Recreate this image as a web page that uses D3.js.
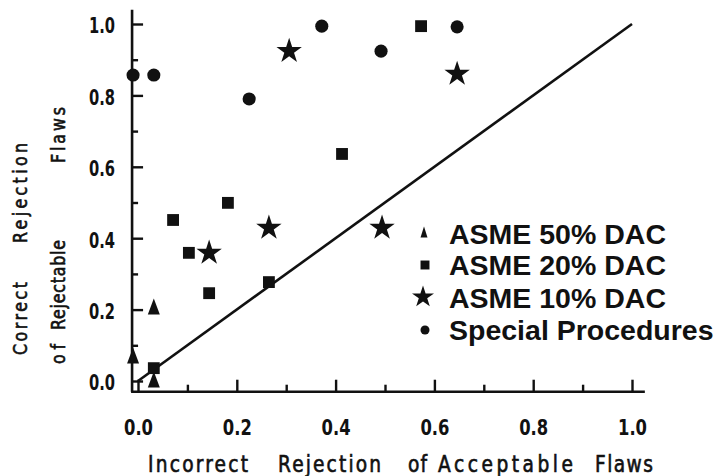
<!DOCTYPE html>
<html>
<head>
<meta charset="utf-8">
<script src="https://cdn.jsdelivr.net/npm/d3@7/dist/d3.min.js"></script>
<style>
  html, body { margin: 0; padding: 0; background: #fff; }
  svg { display: block; }
</style>
</head>
<body>
<svg id="chart" width="719" height="476"></svg>
<script>
// ---- data ----
const categories = ["ASME 50% DAC", "ASME 20% DAC", "ASME 10% DAC", "Special Procedures"];
const asme50X = [0.032, -0.01, 0.032];
const asme50Y = [0.204, 0.067, 0.0];
const asme20X = [0.573, 0.413, 0.182, 0.071, 0.103, 0.144, 0.265, 0.032];
const asme20Y = [0.994, 0.636, 0.499, 0.451, 0.359, 0.246, 0.277, 0.036];
const asme10X = [0.306, 0.646, 0.265, 0.144, 0.494];
const asme10Y = [0.924, 0.860, 0.429, 0.359, 0.429];
const specialX = [-0.01, 0.032, 0.225, 0.372, 0.492, 0.646];
const specialY = [0.857, 0.857, 0.790, 0.994, 0.924, 0.992];
const majorTicks = [0, 0.2, 0.4, 0.6, 0.8, 1.0];
const minorTicks = [0.1, 0.3, 0.5, 0.7, 0.9];
const tickLabels = ["0.0", "0.2", "0.4", "0.6", "0.8", "1.0"];
const diagonal = [[0, 0], [1, 1]];
const xTitleWords = ["Incorrect", "Rejection", "of", "Acceptable", "Flaws"];
const yTitle1Words = ["Correct", "Rejection"];
const yTitle2Words = ["of", "Rejectable", "Flaws"];

// ---- layout ----
const svg = d3.select("#chart");
const x = d3.scaleLinear().domain([0, 1]).range([138, 632]);
const y = d3.scaleLinear().domain([0, 1]).range([381, 24]);
const tickFont = "'DejaVu Sans Condensed', 'DejaVu Sans', sans-serif";

svg.append("rect").attr("width", 719).attr("height", 476).attr("fill", "#fff");

// axis lines
const axisX0 = x(-0.012), axisX1 = x(1.026);
const axisY0 = y(-0.03), axisY1 = y(1.04);
svg.append("line").attr("x1", axisX0).attr("x2", axisX0).attr("y1", axisY1).attr("y2", axisY0)
  .attr("stroke", "#111").attr("stroke-width", 2.6);
svg.append("line").attr("x1", axisX0 - 1).attr("x2", axisX1).attr("y1", axisY0).attr("y2", axisY0)
  .attr("stroke", "#111").attr("stroke-width", 2.6);

// Y axis (ticks inward)
const yAxis = d3.axisLeft(y).tickValues(majorTicks).tickSize(-11).tickPadding(17)
  .tickFormat((d, i) => tickLabels[i]);
const gy = svg.append("g").attr("transform", `translate(${axisX0},0)`).call(yAxis);
gy.select(".domain").remove();
gy.selectAll(".tick line").attr("stroke", "#111").attr("stroke-width", 2.4);
gy.selectAll(".tick text").attr("font-family", tickFont).attr("font-size", 21)
  .attr("font-weight", "bold").attr("font-stretch", "condensed").attr("fill", "#111").attr("dy", "0.42em")
  .attr("textLength", 26).attr("lengthAdjust", "spacingAndGlyphs");
const yMinor = d3.axisLeft(y).tickValues(minorTicks).tickSize(-6).tickFormat("");
const gym = svg.append("g").attr("transform", `translate(${axisX0},0)`).call(yMinor);
gym.select(".domain").remove();
gym.selectAll(".tick line").attr("stroke", "#111").attr("stroke-width", 2.4);

// X axis (ticks inward)
const xAxis = d3.axisBottom(x).tickValues(majorTicks).tickSize(-12).tickPadding(28)
  .tickFormat((d, i) => tickLabels[i]);
const gx = svg.append("g").attr("transform", `translate(0,${axisY0})`).call(xAxis);
gx.select(".domain").remove();
gx.selectAll(".tick line").attr("stroke", "#111").attr("stroke-width", 2.4);
gx.selectAll(".tick text").attr("font-family", tickFont).attr("font-size", 22)
  .attr("font-weight", "bold").attr("font-stretch", "condensed").attr("fill", "#111")
  .attr("textLength", 29).attr("lengthAdjust", "spacingAndGlyphs");
const xMinor = d3.axisBottom(x).tickValues(minorTicks).tickSize(-7).tickFormat("");
const gxm = svg.append("g").attr("transform", `translate(0,${axisY0})`).call(xMinor);
gxm.select(".domain").remove();
gxm.selectAll(".tick line").attr("stroke", "#111").attr("stroke-width", 2.4);

// diagonal line
svg.append("path").datum(diagonal)
  .attr("d", d3.line().x(d => x(d[0])).y(d => y(d[1])))
  .attr("fill", "none").attr("stroke", "#111").attr("stroke-width", 2.6);

// marker shapes
function triPath(w, h) {
  return `M0,${-h * 0.6}L${w / 2},${h * 0.4}L${-w / 2},${h * 0.4}Z`;
}
const sqPath = d3.symbol(d3.symbolSquare, 140)();
const starPath = d3.symbol(d3.symbolStar, 200)();
const circPath = d3.symbol(d3.symbolCircle, 135)();

function plot(xs, ys, pathStr) {
  svg.append("g").selectAll("path").data(xs.map((v, i) => [v, ys[i]])).join("path")
    .attr("d", pathStr)
    .attr("transform", d => `translate(${x(d[0])},${y(d[1])})`)
    .attr("fill", "#111");
}
plot(asme50X, asme50Y, triPath(12, 16));
plot(asme20X, asme20Y, sqPath);
plot(asme10X, asme10Y, starPath);
plot(specialX, specialY, circPath);

// legend
const legendMarkers = [triPath(7, 11), d3.symbol(d3.symbolSquare, 80)(), d3.symbol(d3.symbolStar, 150)(), d3.symbol(d3.symbolCircle, 64)()];
const legendBaselines = [244, 275, 308, 340];
const legendMarkerX = [424, 425, 423, 425];
const legendMarkerY = [233, 265, 297, 330];
const lg = svg.append("g");
categories.forEach((c, i) => {
  lg.append("path").attr("d", legendMarkers[i])
    .attr("transform", `translate(${legendMarkerX[i]},${legendMarkerY[i]})`).attr("fill", "#111");
  lg.append("text").attr("x", 449).attr("y", legendBaselines[i])
    .attr("font-family", "'Liberation Sans', Arial, sans-serif").attr("font-weight", "bold")
    .attr("font-size", 28.5).attr("fill", "#111").text(c);
});

// axis titles (narrow glyphs, widened letter spacing)
const titleFont = "'DejaVu Sans Condensed', 'DejaVu Sans', sans-serif";
const sx = 0.9;
function titleWord(tr, len, size, w) {
  svg.append("text").attr("transform", tr)
    .attr("font-family", titleFont).attr("font-size", size).attr("fill", "#111")
    .attr("stroke", "#111").attr("stroke-width", 0.6)
    .attr("textLength", len / sx).attr("lengthAdjust", "spacing").text(w);
}
const xWordStart = [148, 278, 408, 438, 595];
const xWordLen = [100, 103, 19, 135, 58];
xTitleWords.forEach((w, i) => {
  titleWord(`translate(${xWordStart[i]},472) scale(${sx},1)`, xWordLen[i], 23, w);
});
// y titles rotated, each word: start (bottom) and length
const y1Start = [355, 243], y1Len = [73, 100];
yTitle1Words.forEach((w, i) => {
  titleWord(`translate(27,${y1Start[i]}) rotate(-90) scale(${sx},1)`, y1Len[i], 19.5, w);
});
const y2Start = [364, 330, 163], y2Len = [20, 90, 56];
yTitle2Words.forEach((w, i) => {
  titleWord(`translate(65,${y2Start[i]}) rotate(-90) scale(${sx},1)`, y2Len[i], 19.5, w);
});
</script>
</body>
</html>
